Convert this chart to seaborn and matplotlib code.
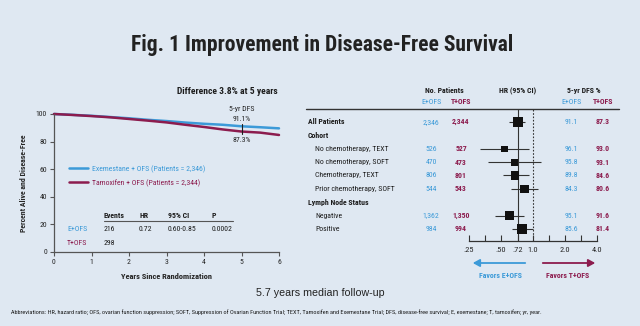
import matplotlib
matplotlib.use("Agg")
import matplotlib.pyplot as plt
from matplotlib import font_manager
from matplotlib.transforms import blended_transform_factory
from matplotlib.lines import Line2D
from matplotlib.patches import FancyArrowPatch
import pandas as pd
import seaborn as sns

# ---- Kaplan-Meier disease-free survival (%) ----
years = [0, 0.5, 1, 1.5, 2, 2.5, 3, 3.5, 4, 4.5, 5, 5.5, 6]
dfs_exemestane = [100, 99.4, 98.7, 97.8, 96.9, 95.8, 94.9, 93.8, 92.9, 92.2, 91.1, 90.4, 89.6]
dfs_tamoxifen = [100, 99.3, 98.5, 97.6, 96.4, 95.2, 93.9, 92.2, 90.6, 88.8, 87.3, 86.5, 84.8]
arm_labels = ["Exemestane + OFS (Patients = 2,346)", "Tamoxifen + OFS (Patients = 2,344)"]
dfs5_labels = ["91.1%", "87.3%"]

# summary table under the curves
tab_header = ["Events", "HR", "95% CI", "P"]
tab_arms = ["E+OFS", "T+OFS"]
tab_e_row = ["216", "0.72", "0.60-0.85", "0.0002"]
tab_t_row = ["298", "", "", ""]

# ---- subgroup forest plot ----
subgroups = ["All Patients", "No chemotherapy, TEXT", "No chemotherapy, SOFT",
             "Chemotherapy, TEXT", "Prior chemotherapy, SOFT", "Negative", "Positive"]
patients_e = ["2,346", "526", "470", "806", "544", "1,362", "984"]
patients_t = ["2,344", "527", "473", "801", "543", "1,350", "994"]
hr = [0.72, 0.54, 0.67, 0.68, 0.83, 0.60, 0.79]
ci_low = [0.60, 0.32, 0.38, 0.52, 0.62, 0.44, 0.63]
ci_high = [0.85, 0.92, 1.19, 0.91, 1.12, 0.82, 1.00]
dfs5_e = ["91.1", "96.1", "95.8", "89.8", "84.3", "95.1", "85.6"]
dfs5_t = ["87.3", "93.0", "93.1", "84.6", "80.6", "91.6", "81.4"]
group_headers = ["Cohort", "Lymph Node Status"]
hr_ticks = [0.25, 0.354, 0.5, 0.72, 1.0, 1.414, 2.0, 2.83, 4.0]
hr_tick_labels = [".25", "", ".50", ".72", "1.0", "", "2.0", "", "4.0"]

# ---- layout / style ----
BG = "#dfe8f2"
BLUE = "#3c9ad8"
RED = "#8c1c4e"
INK = "#1c1c1c"
W, H = 640, 326

sns.set_theme(style="ticks", rc={"axes.facecolor": BG, "figure.facecolor": BG,
                                 "savefig.facecolor": BG})
installed = {f.name for f in font_manager.fontManager.ttflist}
narrow = [n for n in ("Roboto Condensed", "Archivo Narrow", "PT Sans Narrow",
                      "Liberation Sans Narrow") if n in installed]
plt.rcParams["font.family"] = narrow + ["Liberation Sans", "DejaVu Sans"]

fig = plt.figure(figsize=(W / 100, H / 100), dpi=100)


def fx(px):
    return px / W


def fy(py):
    return 1 - py / H


def ftext(px, py, s, **kw):
    kw.setdefault("color", INK)
    kw.setdefault("va", "center")
    fig.text(fx(px), fy(py), s, **kw)


FS = 5.6

# title
ftext(322, 45, "Fig. 1 Improvement in Disease-Free Survival", ha="center",
      fontsize=15.5, fontweight="bold", color="#222222")

# ---------------- Kaplan-Meier panel ----------------
axk = fig.add_axes([fx(54), fy(252), fx(279) - fx(54), fy(114) - fy(252)])
km = pd.DataFrame({
    "year": years * 2,
    "dfs": dfs_exemestane + dfs_tamoxifen,
    "arm": [arm_labels[0]] * len(years) + [arm_labels[1]] * len(years),
})
sns.lineplot(data=km, x="year", y="dfs", hue="arm", palette=[BLUE, RED],
             linewidth=1.8, legend=False, ax=axk, clip_on=False)
axk.set_xlim(0, 6)
axk.set_ylim(0, 100)
axk.set_xticks(range(0, 7))
axk.set_yticks(range(0, 101, 20))
axk.tick_params(labelsize=FS, length=3, width=0.8, color="#555555", pad=2)
for sp in ("top", "right"):
    axk.spines[sp].set_visible(False)
for sp in ("left", "bottom"):
    axk.spines[sp].set_color("#555555")
    axk.spines[sp].set_linewidth(0.9)
axk.set_xlabel("Years Since Randomization", fontsize=6, fontweight="bold", labelpad=6)
axk.set_ylabel("Percent Alive and Disease-Free", fontsize=5.6, fontweight="bold", labelpad=6)

handles = [Line2D([], [], color=BLUE, lw=1.8), Line2D([], [], color=RED, lw=1.8)]
leg = axk.legend(handles, arm_labels, frameon=False, fontsize=FS, handlelength=2.4,
                 handletextpad=0.6, labelspacing=0.8, loc="center left",
                 bbox_to_anchor=(fx(62), fy(176)), bbox_transform=fig.transFigure)
for t, c in zip(leg.get_texts(), [BLUE, RED]):
    t.set_color(c)

# 5-year marker
i5 = years.index(5)
axk.plot([5, 5], [dfs_exemestane[i5] + 1.5, dfs_tamoxifen[i5] - 1.5], color=INK, lw=0.8)
axk.text(5, dfs_exemestane[i5] + 12.5, "5-yr DFS", ha="center", va="center", fontsize=FS)
axk.text(5, dfs_exemestane[i5] + 5.5, dfs5_labels[0], ha="center", va="center", fontsize=FS)
axk.text(5, dfs_tamoxifen[i5] - 6.5, dfs5_labels[1], ha="center", va="center", fontsize=FS)
ftext(278, 92, "Difference 3.8% at 5 years", ha="right", fontsize=6.8, fontweight="bold")

# events table
col_x = [104, 139, 168, 212]
for x, s in zip(col_x, tab_header):
    ftext(x, 215, s, fontsize=FS, fontweight="bold")
fig.add_artist(Line2D([fx(104), fx(233)], [fy(221), fy(221)], color="#555555", lw=0.8))
ftext(67, 229, tab_arms[0], fontsize=FS, color=BLUE)
ftext(67, 243, tab_arms[1], fontsize=FS, color=RED)
for x, s in zip(col_x, tab_e_row):
    ftext(x, 229, s, fontsize=FS)
for x, s in zip(col_x, tab_t_row):
    ftext(x, 243, s, fontsize=FS)

# ---------------- forest plot panel ----------------
row_pos = [0, 2, 3, 4, 5, 7, 8]
header_pos = [1, 6]
axf = fig.add_axes([fx(469), fy(241), fx(597) - fx(469), fy(109) - fy(241)])
axf.set_xscale("log", base=2)
axf.set_xlim(0.25, 4.0)
axf.set_ylim(8.9, -0.97)

forest = pd.DataFrame({"hr": hr, "lo": ci_low, "hi": ci_high, "row": row_pos,
                       "box": [52, 20, 26, 38, 38, 44, 58]})
axf.hlines(forest["row"], forest["lo"], forest["hi"], color="#333333", lw=0.8)
sns.scatterplot(data=forest, x="hr", y="row", size="box",
                sizes={v: v for v in forest["box"]}, marker="s", color="#111111",
                edgecolor="none", legend=False, ax=axf, zorder=3)
axf.axvline(hr[0], color="#333333", lw=0.8, zorder=1)
axf.axvline(1.0, color="#333333", lw=0.8, ls=(0, (1.5, 1.5)), zorder=1)
axf.set_xticks(hr_ticks)
axf.set_xticklabels(hr_tick_labels)
axf.xaxis.set_minor_locator(matplotlib.ticker.NullLocator())
axf.tick_params(axis="x", direction="in", length=4, width=0.8, color="#333333",
                labelsize=6, pad=4)
axf.set_yticks([])
axf.set_xlabel("")
axf.set_ylabel("")
for sp in ("top", "right", "left"):
    axf.spines[sp].set_visible(False)
axf.spines["bottom"].set_color("#333333")
axf.spines["bottom"].set_linewidth(0.9)

# table text alongside the forest plot
tr = blended_transform_factory(fig.transFigure, axf.transData)
for r, lab in zip(row_pos, subgroups):
    bold = r == 0
    axf.text(fx(308 if bold else 315), r, lab, transform=tr, va="center", fontsize=FS,
             fontweight="bold" if bold else "normal", color=INK)
for r, lab in zip(header_pos, group_headers):
    axf.text(fx(308), r, lab, transform=tr, va="center", fontsize=FS,
             fontweight="bold", color=INK)
for r, a, b, c, d in zip(row_pos, patients_e, patients_t, dfs5_e, dfs5_t):
    axf.text(fx(431), r, a, transform=tr, ha="center", va="center", fontsize=FS, color=BLUE)
    axf.text(fx(461), r, b, transform=tr, ha="center", va="center", fontsize=FS,
             color=RED, fontweight="bold")
    axf.text(fx(571), r, c, transform=tr, ha="center", va="center", fontsize=FS, color=BLUE)
    axf.text(fx(603), r, d, transform=tr, ha="center", va="center", fontsize=FS,
             color=RED, fontweight="bold")

# column headers
ftext(444, 91, "No. Patients", ha="center", fontsize=FS, fontweight="bold")
ftext(518, 91, "HR (95% CI)", ha="center", fontsize=FS, fontweight="bold")
ftext(584, 91, "5-yr DFS %", ha="center", fontsize=FS, fontweight="bold")
for x, s, c in [(431, "E+OFS", BLUE), (461, "T+OFS", RED),
                (571, "E+OFS", BLUE), (603, "T+OFS", RED)]:
    ftext(x, 102, s, ha="center", fontsize=FS, color=c,
          fontweight="bold" if c == RED else "normal")
fig.add_artist(Line2D([fx(306), fx(619)], [fy(109), fy(109)], color="#333333", lw=1.0))

# favours arrows
fig.add_artist(FancyArrowPatch(
    (fx(528), fy(263)), (fx(470), fy(263)), transform=fig.transFigure,
    arrowstyle="-|>,head_length=4,head_width=2.2", color=BLUE, lw=1.3))
fig.add_artist(FancyArrowPatch(
    (fx(540), fy(263)), (fx(598), fy(263)), transform=fig.transFigure,
    arrowstyle="-|>,head_length=4,head_width=2.2", color=RED, lw=1.3))
ftext(500, 275, "Favors E+OFS", ha="center", fontsize=FS, fontweight="bold", color=BLUE)
ftext(568, 275, "Favors T+OFS", ha="center", fontsize=FS, fontweight="bold", color=RED)

# follow-up note and abbreviations
ftext(320, 293, "5.7 years median follow-up", ha="center", fontsize=7.7,
      family=["Liberation Sans", "DejaVu Sans"], color="#222222")
ftext(11, 312, "Abbreviations: HR, hazard ratio; OFS, ovarian function suppression; SOFT, "
      "Suppression of Ovarian Function Trial; TEXT, Tamoxifen and Exemestane Trial; DFS, "
      "disease-free survival; E, exemestane; T, tamoxifen; yr, year.", fontsize=4.5)

fig.savefig("out.png", dpi=100)
